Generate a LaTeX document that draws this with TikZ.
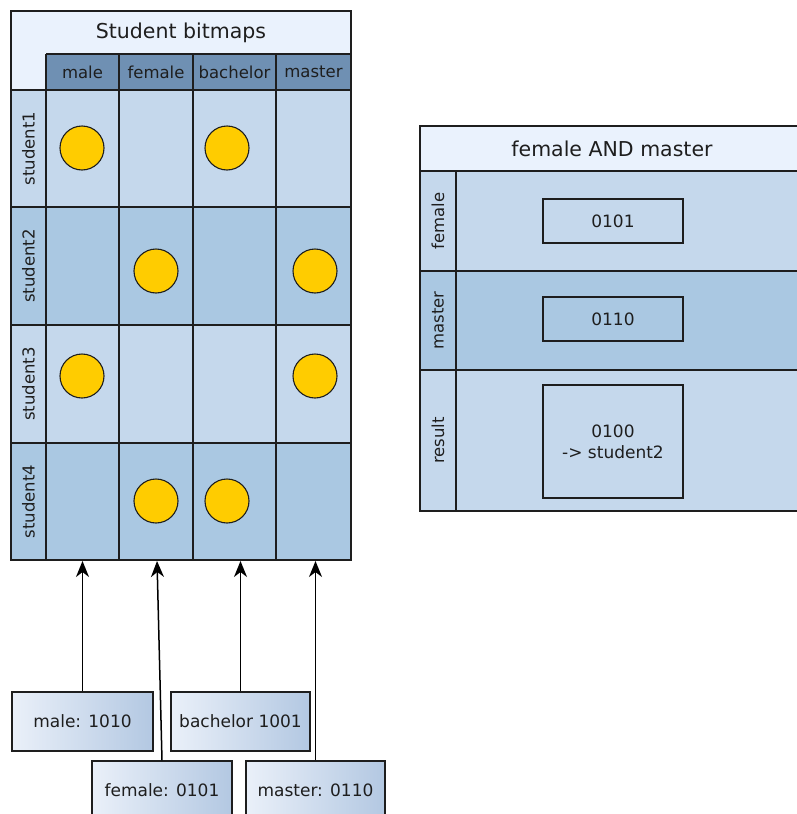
\documentclass[tikz,border=0pt]{standalone}
\usepackage{fontspec}
\setmainfont{DejaVu Sans}
\usetikzlibrary{arrows.meta}

\definecolor{cellA}{HTML}{C5D8EC}
\definecolor{cellB}{HTML}{AAC8E2}
\definecolor{headbar}{HTML}{6F90B3}
\definecolor{titlebar}{HTML}{EAF2FD}
\definecolor{ink}{HTML}{1E1E1E}
\definecolor{dot}{HTML}{FFCC00}
\definecolor{boxL}{HTML}{EAF0F9}
\definecolor{boxR}{HTML}{B3C8E2}

\begin{document}
\begin{tikzpicture}[x=1pt,y=-1pt,
  rule/.style={draw=ink,line width=1.3pt},
  titletext/.style={text=ink,font=\fontsize{20.5}{24}\selectfont},
  labeltext/.style={text=ink,font=\fontsize{16.5}{19}\selectfont,inner sep=0pt},
  sidelabel/.style={labeltext,rotate=90},
  dotc/.style={circle,fill=dot,draw=ink,line width=1.1pt,minimum size=44pt,inner sep=0pt},
  valbox/.style={draw=ink,line width=1.2pt,minimum width=140pt,minimum height=44pt,
    inner sep=0pt,text=ink,font=\fontsize{17}{21}\selectfont,align=center},
  keybox/.style={draw=ink,line width=1.2pt,left color=boxL,right color=boxR,
    minimum height=59pt,inner sep=0pt,text=ink,font=\fontsize{17}{21}\selectfont},
  feed/.style={draw=black,line width=1.5pt,shorten >=1pt,
    -{Stealth[length=16pt,width=13pt,inset=5pt]}}]
\useasboundingbox (0,0) rectangle (797,814);

% ---------- Student bitmaps table ----------
\fill[titlebar] (11,11) rectangle (351,90);
\fill[headbar] (46,54) rectangle (351,90);
\fill[cellA] (11,90) rectangle (351,207);
\fill[cellB] (11,207) rectangle (351,325);
\fill[cellA] (11,325) rectangle (351,443);
\fill[cellB] (11,443) rectangle (351,560);
\draw[rule] (46,54) -- (351,54);
\foreach \yy in {90,207,325,443} \draw[rule] (11,\yy) -- (351,\yy);
\foreach \xx in {46,119,193,276} \draw[rule] (\xx,54) -- (\xx,560);
\draw[rule] (11,11) rectangle (351,560);

\node[titletext] (bmtitle) at (181,33) {Student bitmaps};
\node[labeltext] (hmale) at (82.5,72) {male};
\node[labeltext] (hfemale) at (156,72) {female};
\node[labeltext] (hbach) at (234.5,72) {bachelor};
\node[labeltext] (hmaster) at (313.5,72) {master};
\node[sidelabel] (s1) at (28.5,148.5) {student1};
\node[sidelabel] (s2) at (28.5,266) {student2};
\node[sidelabel] (s3) at (28.5,384) {student3};
\node[sidelabel] (s4) at (28.5,501.5) {student4};

% set bits
\node[dotc] (d11) at (82,148) {};
\node[dotc] (d13) at (227,148) {};
\node[dotc] (d22) at (156,271) {};
\node[dotc] (d24) at (315,271) {};
\node[dotc] (d31) at (82,376) {};
\node[dotc] (d34) at (315,376) {};
\node[dotc] (d42) at (156,501) {};
\node[dotc] (d43) at (227,501) {};

% ---------- column bit vectors ----------
\node[keybox,minimum width=141pt] (kmale) at (82.5,721.5) {male: 1010};
\node[keybox,minimum width=139pt] (kbach) at (240.5,721.5) {bachelor 1001};
\node[keybox,minimum width=140pt] (kfemale) at (162,790.5) {female: 0101};
\node[keybox,minimum width=139pt] (kmaster) at (315.5,790.5) {master: 0110};

\coordinate (tmale) at (82.5,560);
\coordinate (tfemale) at (157,560);
\coordinate (tbach) at (240.5,560);
\coordinate (tmaster) at (315.5,560);
\draw[feed] (kmale.north) -- (tmale);
\draw[feed] (kfemale.north) -- (tfemale);
\draw[feed] (kbach.north) -- (tbach);
\draw[feed] (kmaster.north) -- (tmaster);

% ---------- female AND master table ----------
\fill[titlebar] (420,126) rectangle (804,171);
\fill[cellA] (420,171) rectangle (804,271);
\fill[cellB] (420,271) rectangle (804,370);
\fill[cellA] (420,370) rectangle (804,511);
\foreach \yy in {171,271,370} \draw[rule] (420,\yy) -- (804,\yy);
\draw[rule] (456,171) -- (456,511);
\draw[rule] (420,126) rectangle (804,511);

\node[titletext] (andtitle) at (612,149) {female AND master};
\node[sidelabel] (rfemale) at (438,221) {female};
\node[sidelabel] (rmaster) at (438,320.5) {master};
\node[sidelabel] (rresult) at (438,440.5) {result};

\node[valbox] (vfemale) at (613,221) {0101};
\node[valbox] (vmaster) at (613,319) {0110};
\node[valbox,minimum height=113pt] (vresult) at (613,441.5) {0100\\-> student2};
\end{tikzpicture}
\end{document}
